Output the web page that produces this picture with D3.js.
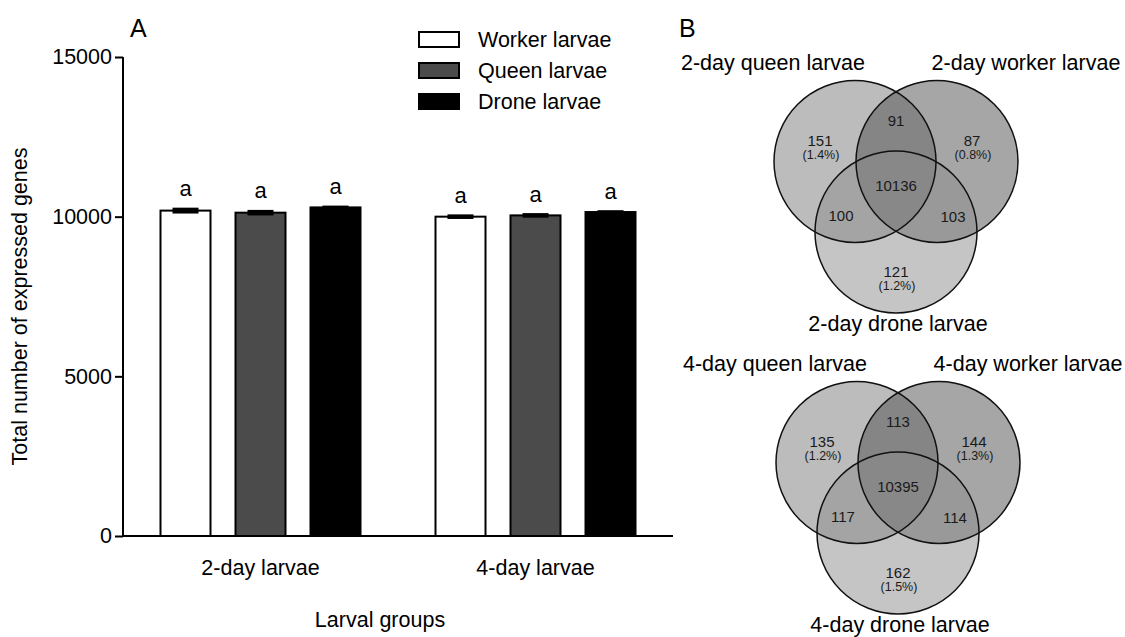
<!DOCTYPE html>
<html>
<head>
<meta charset="utf-8">
<script src="https://cdn.jsdelivr.net/npm/d3@7.9.0/dist/d3.min.js"></script>
<style>
  body { margin: 0; background: #fff; }
  svg { display: block; font-family: "Liberation Sans", Arial, sans-serif; }
</style>
</head>
<body>
<svg id="chart" width="1125" height="637"></svg>
<script>
// Panel A data
const groups = ["2-day larvae", "4-day larvae"];
const series = ["Worker larvae", "Queen larvae", "Drone larvae"];
const seriesFill = ["#ffffff", "#4b4b4b", "#000000"];
const means = [
  [10190, 10125, 10290],
  [10000, 10040, 10145]
];
const errors = [
  [45, 40, 10],
  [25, 25, 10]
];
const sigLetters = [["a", "a", "a"], ["a", "a", "a"]];
const yTicks = [0, 5000, 10000, 15000];

// Panel B data (Venn)
const regionKeys = ["Q", "W", "D", "QW", "QD", "WD", "QWD"];
const venn2Sets = ["2-day queen larvae", "2-day worker larvae", "2-day drone larvae"];
const venn2Counts = [151, 87, 121, 91, 100, 103, 10136];
const venn2Pct = ["1.4%", "0.8%", "1.2%", null, null, null, null];
const venn4Sets = ["4-day queen larvae", "4-day worker larvae", "4-day drone larvae"];
const venn4Counts = [135, 144, 162, 113, 117, 114, 10395];
const venn4Pct = ["1.2%", "1.3%", "1.5%", null, null, null, null];

const svg = d3.select("#chart");

// ---------- Panel A ----------
const plotLeft = 123, plotRight = 673, plotTop = 57, plotBottom = 536;

const x0 = d3.scaleBand().domain(groups).range([plotLeft, plotRight]).padding(0);
const x1 = d3.scaleBand().domain(series).range([0, 225])
  .paddingInner(1 / 3).paddingOuter(1 / 6);
const y = d3.scaleLinear().domain([0, 15000]).range([plotBottom, plotTop]);

svg.append("text").attr("x", 130).attr("y", 37)
  .attr("font-size", 25).text("A");

// bars
groups.forEach((g, gi) => {
  const off = x0(g) + (x0.bandwidth() - 225) / 2;
  const gEl = svg.append("g").attr("transform", `translate(${off},0)`);
  series.forEach((s, si) => {
    const v = means[gi][si], e = errors[gi][si];
    const bx = x1(s), bw = x1.bandwidth();
    gEl.append("rect")
      .attr("x", bx).attr("y", y(v))
      .attr("width", bw).attr("height", y(0) - y(v))
      .attr("fill", seriesFill[si])
      .attr("stroke", "#000").attr("stroke-width", 2);
    // error bar
    const cx = bx + bw / 2;
    [v + e, v - e].forEach(val => {
      gEl.append("line")
        .attr("x1", cx - 13).attr("x2", cx + 13)
        .attr("y1", y(val)).attr("y2", y(val))
        .attr("stroke", "#000").attr("stroke-width", 3);
    });
    gEl.append("line")
      .attr("x1", cx).attr("x2", cx)
      .attr("y1", y(v + e)).attr("y2", y(v - e))
      .attr("stroke", "#000").attr("stroke-width", 1.5);
    gEl.append("text")
      .attr("x", cx).attr("y", y(v + e) - 13)
      .attr("text-anchor", "middle").attr("font-size", 22)
      .text(sigLetters[gi][si]);
  });
});

// axes
const yAxis = svg.append("g").attr("transform", `translate(${plotLeft},0)`)
  .call(d3.axisLeft(y).tickValues(yTicks).tickSize(8).tickPadding(3).tickFormat(d3.format("d")));
yAxis.select(".domain").attr("stroke-width", 2).attr("d", `M0,${plotTop}V${plotBottom}`);
yAxis.selectAll(".tick line").attr("stroke-width", 2);
yAxis.selectAll("text").attr("font-size", 21.5).attr("fill", "#000")
  .attr("font-family", "Liberation Sans, Arial, sans-serif");

const xAxis = svg.append("g").attr("transform", `translate(0,${plotBottom})`)
  .call(d3.axisBottom(x0).tickSize(0).tickPadding(24));
xAxis.select(".domain").attr("stroke-width", 2).attr("d", `M${plotLeft},0H${plotRight}`);
xAxis.selectAll("text").attr("font-size", 21.5).attr("fill", "#000")
  .attr("font-family", "Liberation Sans, Arial, sans-serif");

svg.append("text")
  .attr("x", 380).attr("y", 627)
  .attr("text-anchor", "middle").attr("font-size", 21.5)
  .text("Larval groups");

svg.append("text")
  .attr("transform", `translate(27,${(plotTop + plotBottom) / 2 + 10}) rotate(-90)`)
  .attr("text-anchor", "middle").attr("font-size", 21.5)
  .text("Total number of expressed genes");

// legend
const legend = svg.append("g").attr("transform", "translate(418,31)");
series.forEach((s, i) => {
  const row = legend.append("g").attr("transform", `translate(0,${i * 31})`);
  row.append("rect").attr("x", 1).attr("y", 1).attr("width", 40).attr("height", 15)
    .attr("fill", seriesFill[i]).attr("stroke", "#000").attr("stroke-width", 2);
  row.append("text").attr("x", 60).attr("y", 16)
    .attr("font-size", 21.5).text(s);
});

// ---------- Panel B ----------
svg.append("text").attr("x", 679).attr("y", 37)
  .attr("font-size", 25).text("B");

const r = 81;
const circleFill = ["#797979", "#4d4d4d", "#8b8b8b"];

function drawVenn(dx, dy, sets, counts, pcts) {
  const g = svg.append("g").attr("transform", `translate(${dx},${dy})`);
  const centers = [[855, 161.5], [937, 161.5], [896, 232]];

  g.selectAll("circle.fill").data(centers).join("circle")
    .attr("class", "fill")
    .attr("cx", d => d[0]).attr("cy", d => d[1]).attr("r", r)
    .attr("fill", (d, i) => circleFill[i]).attr("fill-opacity", 0.5);
  g.selectAll("circle.edge").data(centers).join("circle")
    .attr("class", "edge")
    .attr("cx", d => d[0]).attr("cy", d => d[1]).attr("r", r)
    .attr("fill", "none").attr("stroke", "#111").attr("stroke-width", 1.5);

  // set names
  const namePos = [[773, 70], [1026, 70], [898, 331]];
  sets.forEach((s, i) => {
    g.append("text").attr("x", namePos[i][0]).attr("y", namePos[i][1])
      .attr("text-anchor", "middle").attr("font-size", 21.5).text(s);
  });

  // region label anchor points
  const labelPos = {
    Q: [820, 146], W: [972, 146], D: [896, 277],
    QW: [896, 126], QD: [841, 221], WD: [953, 222], QWD: [896, 191]
  };
  regionKeys.forEach((k, i) => {
    const [lx, ly] = labelPos[k];
    g.append("text").attr("x", lx).attr("y", ly)
      .attr("text-anchor", "middle").attr("font-size", 15).attr("fill", "#1a1a1a")
      .text(counts[i]);
    if (pcts[i]) {
      g.append("text").attr("x", lx + 1).attr("y", ly + 13)
        .attr("text-anchor", "middle").attr("font-size", 12.5).attr("fill", "#1a1a1a")
        .text(`(${pcts[i]})`);
    }
  });
}

drawVenn(0, 0, venn2Sets, venn2Counts, venn2Pct);
drawVenn(2, 301, venn4Sets, venn4Counts, venn4Pct);
</script>
</body>
</html>
